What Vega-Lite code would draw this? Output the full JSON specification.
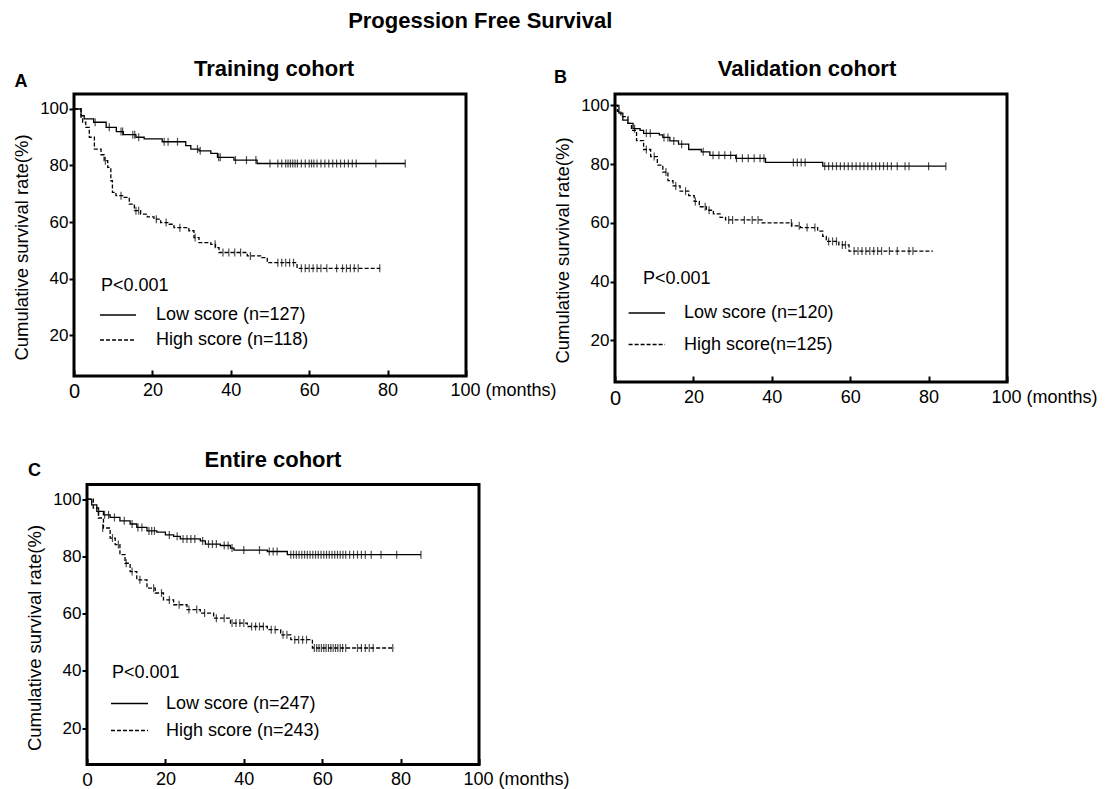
{
"$schema": "https://vega.github.io/schema/vega-lite/v6.json",
"background": "white",
"padding": {"left": 11, "top": 9, "right": 0, "bottom": 0},
"title": {"text": "Progession Free Survival", "fontSize": 22, "fontWeight": "bold", "font": "Liberation Sans", "color": "black", "anchor": "start", "dx": 337, "baseline": "top", "offset": 24},
"datasets": {
"curves": [
{"p":"A","g":"Low","t":0,"s":100},{"p":"A","g":"Low","t":1.8,"s":97.6},{"p":"A","g":"Low","t":2.6,"s":96.5},{"p":"A","g":"Low","t":5,"s":95.3},{"p":"A","g":"Low","t":8.2,"s":93.5},{"p":"A","g":"Low","t":10.8,"s":92},{"p":"A","g":"Low","t":12.6,"s":90.9},{"p":"A","g":"Low","t":15.8,"s":90},{"p":"A","g":"Low","t":17.9,"s":89.4},{"p":"A","g":"Low","t":22.5,"s":88.4},{"p":"A","g":"Low","t":28.5,"s":87},{"p":"A","g":"Low","t":29.8,"s":85.8},{"p":"A","g":"Low","t":31.9,"s":85.2},{"p":"A","g":"Low","t":34.9,"s":84.3},{"p":"A","g":"Low","t":36.6,"s":82.9},{"p":"A","g":"Low","t":40.8,"s":81.9},{"p":"A","g":"Low","t":46.7,"s":80.7},{"p":"A","g":"Low","t":84.5,"s":80.7},
{"p":"A","g":"High","t":0,"s":100},{"p":"A","g":"High","t":1.8,"s":97},{"p":"A","g":"High","t":2.2,"s":95.3},{"p":"A","g":"High","t":3,"s":93.5},{"p":"A","g":"High","t":3.9,"s":90},{"p":"A","g":"High","t":5.2,"s":85.8},{"p":"A","g":"High","t":6.9,"s":83.8},{"p":"A","g":"High","t":7.7,"s":81.7},{"p":"A","g":"High","t":8.6,"s":79.3},{"p":"A","g":"High","t":9.4,"s":74.6},{"p":"A","g":"High","t":9.8,"s":70.5},{"p":"A","g":"High","t":10.7,"s":69.3},{"p":"A","g":"High","t":12.8,"s":68.7},{"p":"A","g":"High","t":14.1,"s":66.3},{"p":"A","g":"High","t":15.4,"s":64},{"p":"A","g":"High","t":17,"s":62.8},{"p":"A","g":"High","t":18.7,"s":61.8},{"p":"A","g":"High","t":20.4,"s":61},{"p":"A","g":"High","t":22.1,"s":59.8},{"p":"A","g":"High","t":24.3,"s":59.2},{"p":"A","g":"High","t":25.5,"s":58},{"p":"A","g":"High","t":29.3,"s":56.9},{"p":"A","g":"High","t":30.6,"s":54.5},{"p":"A","g":"High","t":31.9,"s":52.7},{"p":"A","g":"High","t":34.9,"s":52.1},{"p":"A","g":"High","t":36.1,"s":50.9},{"p":"A","g":"High","t":37,"s":49.2},{"p":"A","g":"High","t":44.2,"s":48},{"p":"A","g":"High","t":47.6,"s":47.4},{"p":"A","g":"High","t":49.3,"s":45.6},{"p":"A","g":"High","t":56.9,"s":43.6},{"p":"A","g":"High","t":78.1,"s":43.6},
{"p":"B","g":"Low","t":0,"s":100},{"p":"B","g":"Low","t":1,"s":97.4},{"p":"B","g":"Low","t":2,"s":95},{"p":"B","g":"Low","t":3.3,"s":93.9},{"p":"B","g":"Low","t":4.6,"s":92.1},{"p":"B","g":"Low","t":6.4,"s":91.5},{"p":"B","g":"Low","t":7.3,"s":90.5},{"p":"B","g":"Low","t":11.3,"s":90},{"p":"B","g":"Low","t":12.2,"s":89.1},{"p":"B","g":"Low","t":14,"s":87.9},{"p":"B","g":"Low","t":16.2,"s":86.8},{"p":"B","g":"Low","t":18.8,"s":85},{"p":"B","g":"Low","t":22,"s":84.2},{"p":"B","g":"Low","t":24.2,"s":83},{"p":"B","g":"Low","t":30.8,"s":82},{"p":"B","g":"Low","t":38.4,"s":80.6},{"p":"B","g":"Low","t":53,"s":79.3},{"p":"B","g":"Low","t":84.4,"s":79.3},
{"p":"B","g":"High","t":0,"s":100},{"p":"B","g":"High","t":0.6,"s":98},{"p":"B","g":"High","t":1.5,"s":96.2},{"p":"B","g":"High","t":3.3,"s":93.9},{"p":"B","g":"High","t":4.2,"s":91.5},{"p":"B","g":"High","t":5.5,"s":88},{"p":"B","g":"High","t":7.3,"s":85},{"p":"B","g":"High","t":9.1,"s":82.6},{"p":"B","g":"High","t":10.8,"s":79.7},{"p":"B","g":"High","t":12.2,"s":77.3},{"p":"B","g":"High","t":13.5,"s":74.4},{"p":"B","g":"High","t":14.8,"s":72.6},{"p":"B","g":"High","t":16.6,"s":70.8},{"p":"B","g":"High","t":18.8,"s":69.3},{"p":"B","g":"High","t":20.2,"s":67.3},{"p":"B","g":"High","t":21.5,"s":65.5},{"p":"B","g":"High","t":23.3,"s":64.3},{"p":"B","g":"High","t":25.1,"s":63.1},{"p":"B","g":"High","t":26.8,"s":61.9},{"p":"B","g":"High","t":28.2,"s":61},{"p":"B","g":"High","t":37.5,"s":60},{"p":"B","g":"High","t":45.1,"s":59},{"p":"B","g":"High","t":47.3,"s":58.4},{"p":"B","g":"High","t":51.7,"s":57.2},{"p":"B","g":"High","t":53,"s":55.4},{"p":"B","g":"High","t":53.9,"s":53.7},{"p":"B","g":"High","t":57.1,"s":52.5},{"p":"B","g":"High","t":59.7,"s":50.4},{"p":"B","g":"High","t":81.1,"s":50.4},
{"p":"C","g":"Low","t":0,"s":100},{"p":"C","g":"Low","t":1.2,"s":98},{"p":"C","g":"Low","t":2.5,"s":95.7},{"p":"C","g":"Low","t":4.2,"s":94.5},{"p":"C","g":"Low","t":5.9,"s":93.6},{"p":"C","g":"Low","t":8.4,"s":92.4},{"p":"C","g":"Low","t":11,"s":91.3},{"p":"C","g":"Low","t":12.7,"s":90.1},{"p":"C","g":"Low","t":15.3,"s":88.9},{"p":"C","g":"Low","t":17.8,"s":88.5},{"p":"C","g":"Low","t":20,"s":87.5},{"p":"C","g":"Low","t":22.1,"s":87},{"p":"C","g":"Low","t":23.8,"s":86.1},{"p":"C","g":"Low","t":28.9,"s":85.4},{"p":"C","g":"Low","t":30.2,"s":84.3},{"p":"C","g":"Low","t":34,"s":83.8},{"p":"C","g":"Low","t":36.6,"s":82.9},{"p":"C","g":"Low","t":37.5,"s":82.2},{"p":"C","g":"Low","t":46,"s":81.7},{"p":"C","g":"Low","t":51.1,"s":80.6},{"p":"C","g":"Low","t":85.2,"s":80.6},
{"p":"C","g":"High","t":0,"s":100},{"p":"C","g":"High","t":1.6,"s":96.9},{"p":"C","g":"High","t":2.9,"s":93.4},{"p":"C","g":"High","t":4.2,"s":89.9},{"p":"C","g":"High","t":5.9,"s":86.4},{"p":"C","g":"High","t":7.2,"s":84.1},{"p":"C","g":"High","t":8.4,"s":80.6},{"p":"C","g":"High","t":9.7,"s":77.6},{"p":"C","g":"High","t":11,"s":74.7},{"p":"C","g":"High","t":12.7,"s":71.8},{"p":"C","g":"High","t":15.3,"s":68.9},{"p":"C","g":"High","t":17.4,"s":67.2},{"p":"C","g":"High","t":19.5,"s":64.8},{"p":"C","g":"High","t":22.1,"s":63.1},{"p":"C","g":"High","t":25.5,"s":61.4},{"p":"C","g":"High","t":28.9,"s":60.2},{"p":"C","g":"High","t":32.3,"s":58.4},{"p":"C","g":"High","t":36.6,"s":56.7},{"p":"C","g":"High","t":40.9,"s":55.5},{"p":"C","g":"High","t":46,"s":54.4},{"p":"C","g":"High","t":49.4,"s":52.6},{"p":"C","g":"High","t":52,"s":50.9},{"p":"C","g":"High","t":57.5,"s":48},{"p":"C","g":"High","t":78.4,"s":48}
],
"cens": [
{"p":"A","t":5.4,"s":95.3},{"p":"A","t":9,"s":93.5},{"p":"A","t":12,"s":92},{"p":"A","t":12.4,"s":92},{"p":"A","t":15,"s":90.9},{"p":"A","t":15.5,"s":90.9},{"p":"A","t":16.5,"s":90},{"p":"A","t":23,"s":88.4},{"p":"A","t":24,"s":88.4},{"p":"A","t":26.4,"s":88.4},{"p":"A","t":31.5,"s":85.8},{"p":"A","t":32.2,"s":85.2},{"p":"A","t":36.9,"s":82.9},{"p":"A","t":37.3,"s":82.9},{"p":"A","t":41.2,"s":81.9},{"p":"A","t":44,"s":81.9},{"p":"A","t":46.4,"s":81.9},{"p":"A","t":50,"s":80.7},{"p":"A","t":52,"s":80.7},{"p":"A","t":53,"s":80.7},{"p":"A","t":54,"s":80.7},{"p":"A","t":54.6,"s":80.7},{"p":"A","t":55.2,"s":80.7},{"p":"A","t":55.8,"s":80.7},{"p":"A","t":56.4,"s":80.7},{"p":"A","t":57,"s":80.7},{"p":"A","t":58,"s":80.7},{"p":"A","t":59,"s":80.7},{"p":"A","t":60,"s":80.7},{"p":"A","t":60.6,"s":80.7},{"p":"A","t":61.2,"s":80.7},{"p":"A","t":62,"s":80.7},{"p":"A","t":63,"s":80.7},{"p":"A","t":64,"s":80.7},{"p":"A","t":65,"s":80.7},{"p":"A","t":66,"s":80.7},{"p":"A","t":67,"s":80.7},{"p":"A","t":68,"s":80.7},{"p":"A","t":69,"s":80.7},{"p":"A","t":70,"s":80.7},{"p":"A","t":71,"s":80.7},{"p":"A","t":72,"s":80.7},{"p":"A","t":77,"s":80.7},{"p":"A","t":84.5,"s":80.7},
{"p":"A","t":8,"s":81.7},{"p":"A","t":12,"s":69.3},{"p":"A","t":15.8,"s":64},{"p":"A","t":16.5,"s":64},{"p":"A","t":21,"s":61},{"p":"A","t":23.5,"s":59.8},{"p":"A","t":27,"s":58},{"p":"A","t":30.9,"s":54.5},{"p":"A","t":36,"s":52.1},{"p":"A","t":38,"s":49.2},{"p":"A","t":39.5,"s":49.2},{"p":"A","t":41,"s":49.2},{"p":"A","t":42.5,"s":49.2},{"p":"A","t":45,"s":48},{"p":"A","t":52,"s":45.6},{"p":"A","t":53,"s":45.6},{"p":"A","t":54,"s":45.6},{"p":"A","t":55,"s":45.6},{"p":"A","t":56,"s":45.6},{"p":"A","t":58,"s":43.6},{"p":"A","t":59,"s":43.6},{"p":"A","t":60,"s":43.6},{"p":"A","t":61,"s":43.6},{"p":"A","t":62,"s":43.6},{"p":"A","t":63,"s":43.6},{"p":"A","t":64.5,"s":43.6},{"p":"A","t":67,"s":43.6},{"p":"A","t":68.5,"s":43.6},{"p":"A","t":69.5,"s":43.6},{"p":"A","t":70.5,"s":43.6},{"p":"A","t":71.5,"s":43.6},{"p":"A","t":72.5,"s":43.6},{"p":"A","t":78,"s":43.6},
{"p":"B","t":5,"s":92.1},{"p":"B","t":8,"s":90.5},{"p":"B","t":9,"s":90.5},{"p":"B","t":12.5,"s":89.1},{"p":"B","t":13.5,"s":89.1},{"p":"B","t":15,"s":87.9},{"p":"B","t":17,"s":86.8},{"p":"B","t":22.5,"s":84.2},{"p":"B","t":25,"s":83},{"p":"B","t":26.5,"s":83},{"p":"B","t":28,"s":83},{"p":"B","t":29.5,"s":83},{"p":"B","t":31,"s":82},{"p":"B","t":32.5,"s":82},{"p":"B","t":34,"s":82},{"p":"B","t":35.5,"s":82},{"p":"B","t":37,"s":82},{"p":"B","t":38,"s":82},{"p":"B","t":45.5,"s":80.6},{"p":"B","t":46.5,"s":80.6},{"p":"B","t":47.5,"s":80.6},{"p":"B","t":48.5,"s":80.6},{"p":"B","t":53.5,"s":79.3},{"p":"B","t":54.5,"s":79.3},{"p":"B","t":55.5,"s":79.3},{"p":"B","t":56.5,"s":79.3},{"p":"B","t":57.5,"s":79.3},{"p":"B","t":58.5,"s":79.3},{"p":"B","t":59.5,"s":79.3},{"p":"B","t":60.5,"s":79.3},{"p":"B","t":61.5,"s":79.3},{"p":"B","t":62.5,"s":79.3},{"p":"B","t":63.5,"s":79.3},{"p":"B","t":64.5,"s":79.3},{"p":"B","t":65.5,"s":79.3},{"p":"B","t":66.5,"s":79.3},{"p":"B","t":67.5,"s":79.3},{"p":"B","t":68.5,"s":79.3},{"p":"B","t":69.5,"s":79.3},{"p":"B","t":70.5,"s":79.3},{"p":"B","t":72,"s":79.3},{"p":"B","t":74,"s":79.3},{"p":"B","t":75,"s":79.3},{"p":"B","t":80,"s":79.3},{"p":"B","t":84.4,"s":79.3},
{"p":"B","t":8,"s":85},{"p":"B","t":10,"s":82.6},{"p":"B","t":13,"s":77.3},{"p":"B","t":15.5,"s":72.6},{"p":"B","t":18,"s":70.8},{"p":"B","t":20.5,"s":67.3},{"p":"B","t":23,"s":65.5},{"p":"B","t":24,"s":64.3},{"p":"B","t":29,"s":61},{"p":"B","t":30,"s":61},{"p":"B","t":33,"s":61},{"p":"B","t":35,"s":61},{"p":"B","t":36.5,"s":61},{"p":"B","t":45,"s":60},{"p":"B","t":47,"s":59},{"p":"B","t":49,"s":58.4},{"p":"B","t":51,"s":58.4},{"p":"B","t":54.5,"s":53.7},{"p":"B","t":55.5,"s":53.7},{"p":"B","t":56.5,"s":53.7},{"p":"B","t":58,"s":52.5},{"p":"B","t":58.8,"s":52.5},{"p":"B","t":61,"s":50.4},{"p":"B","t":62,"s":50.4},{"p":"B","t":63,"s":50.4},{"p":"B","t":64,"s":50.4},{"p":"B","t":65,"s":50.4},{"p":"B","t":66,"s":50.4},{"p":"B","t":67,"s":50.4},{"p":"B","t":68,"s":50.4},{"p":"B","t":70,"s":50.4},{"p":"B","t":72,"s":50.4},{"p":"B","t":75,"s":50.4},{"p":"B","t":76,"s":50.4},
{"p":"C","t":3,"s":95.7},{"p":"C","t":4.5,"s":94.5},{"p":"C","t":5.5,"s":94.5},{"p":"C","t":7,"s":93.6},{"p":"C","t":9.5,"s":92.4},{"p":"C","t":11.5,"s":91.3},{"p":"C","t":13,"s":90.1},{"p":"C","t":14,"s":90.1},{"p":"C","t":15.8,"s":88.9},{"p":"C","t":16.5,"s":88.9},{"p":"C","t":17.2,"s":88.9},{"p":"C","t":21,"s":87.5},{"p":"C","t":23,"s":87},{"p":"C","t":24.5,"s":86.1},{"p":"C","t":25.5,"s":86.1},{"p":"C","t":26.5,"s":86.1},{"p":"C","t":27.5,"s":86.1},{"p":"C","t":29.5,"s":85.4},{"p":"C","t":31,"s":84.3},{"p":"C","t":32,"s":84.3},{"p":"C","t":33,"s":84.3},{"p":"C","t":35,"s":83.8},{"p":"C","t":36,"s":83.8},{"p":"C","t":37,"s":82.9},{"p":"C","t":40,"s":82.2},{"p":"C","t":44,"s":82.2},{"p":"C","t":46.5,"s":81.7},{"p":"C","t":47.5,"s":81.7},{"p":"C","t":48.5,"s":81.7},{"p":"C","t":52,"s":80.6},{"p":"C","t":52.7,"s":80.6},{"p":"C","t":53.4,"s":80.6},{"p":"C","t":54.1,"s":80.6},{"p":"C","t":54.8,"s":80.6},{"p":"C","t":55.5,"s":80.6},{"p":"C","t":56.2,"s":80.6},{"p":"C","t":56.9,"s":80.6},{"p":"C","t":57.6,"s":80.6},{"p":"C","t":58.3,"s":80.6},{"p":"C","t":59,"s":80.6},{"p":"C","t":59.7,"s":80.6},{"p":"C","t":60.4,"s":80.6},{"p":"C","t":61.1,"s":80.6},{"p":"C","t":61.8,"s":80.6},{"p":"C","t":62.5,"s":80.6},{"p":"C","t":63.2,"s":80.6},{"p":"C","t":63.9,"s":80.6},{"p":"C","t":64.6,"s":80.6},{"p":"C","t":65.3,"s":80.6},{"p":"C","t":66,"s":80.6},{"p":"C","t":67,"s":80.6},{"p":"C","t":68,"s":80.6},{"p":"C","t":69,"s":80.6},{"p":"C","t":70,"s":80.6},{"p":"C","t":71,"s":80.6},{"p":"C","t":72.5,"s":80.6},{"p":"C","t":75,"s":80.6},{"p":"C","t":79,"s":80.6},{"p":"C","t":85.2,"s":80.6},
{"p":"C","t":4,"s":89.9},{"p":"C","t":6.5,"s":86.4},{"p":"C","t":8,"s":84.1},{"p":"C","t":10,"s":77.6},{"p":"C","t":11.5,"s":74.7},{"p":"C","t":13.5,"s":71.8},{"p":"C","t":17,"s":68.9},{"p":"C","t":19,"s":67.2},{"p":"C","t":21,"s":64.8},{"p":"C","t":23.5,"s":63.1},{"p":"C","t":26,"s":61.4},{"p":"C","t":28,"s":61.4},{"p":"C","t":30,"s":60.2},{"p":"C","t":33,"s":58.4},{"p":"C","t":35,"s":58.4},{"p":"C","t":37,"s":56.7},{"p":"C","t":38,"s":56.7},{"p":"C","t":39,"s":56.7},{"p":"C","t":40,"s":56.7},{"p":"C","t":42,"s":55.5},{"p":"C","t":43,"s":55.5},{"p":"C","t":44,"s":55.5},{"p":"C","t":45,"s":55.5},{"p":"C","t":47,"s":54.4},{"p":"C","t":48,"s":54.4},{"p":"C","t":50,"s":52.6},{"p":"C","t":51,"s":52.6},{"p":"C","t":53,"s":50.9},{"p":"C","t":54,"s":50.9},{"p":"C","t":55,"s":50.9},{"p":"C","t":56,"s":50.9},{"p":"C","t":58,"s":48},{"p":"C","t":58.6,"s":48},{"p":"C","t":59.2,"s":48},{"p":"C","t":59.8,"s":48},{"p":"C","t":60.4,"s":48},{"p":"C","t":61,"s":48},{"p":"C","t":61.6,"s":48},{"p":"C","t":62.2,"s":48},{"p":"C","t":62.8,"s":48},{"p":"C","t":63.4,"s":48},{"p":"C","t":64,"s":48},{"p":"C","t":64.6,"s":48},{"p":"C","t":65.2,"s":48},{"p":"C","t":66,"s":48},{"p":"C","t":69,"s":48},{"p":"C","t":70,"s":48},{"p":"C","t":71,"s":48},{"p":"C","t":72,"s":48},{"p":"C","t":73,"s":48},{"p":"C","t":78,"s":48}
],
"letters": [{"p":"A","L":"A"},{"p":"B","L":"B"},{"p":"C","L":"C"}]
},
"spacing": 36.5,
"vconcat": [
{
"hconcat": [
{
"width": 392, "height": 282,
"title": {"text": "Training cohort", "fontSize": 22, "fontWeight": "bold", "font": "Liberation Sans", "color": "black", "baseline": "alphabetic", "frame": "group", "offset": -25.2, "dx": 4},
"layer": [
{"data": {"name": "curves"}, "transform": [{"filter": "datum.p === 'A'"}],
 "mark": {"type": "line", "interpolate": "step-after", "color": "black", "strokeWidth": 1.3},
 "encoding": {
  "x": {"field": "t", "type": "quantitative", "scale": {"domain": [0, 100], "nice": false},
   "axis": {"values": [0,20,40,60,80,100], "title": null, "grid": false, "domain": false, "tickSize": -6, "tickWidth": 2, "tickColor": "black", "labelFontSize": {"condition": {"test": "datum.value === 0", "value": 20}, "value": 18}, "labelExpr": "datum.value === 100 ? '100 (months)' : datum.label", "labelAlign": {"condition": {"test": "datum.value === 100", "value": "left"}, "value": "center"}, "labelOffset": {"condition": {"test": "datum.value === 100", "value": -16}, "value": 0}, "labelPadding": 11.5, "labelFlush": false, "labelOverlap": false, "labelBound": false, "labelColor": "black", "labelFont": "Liberation Sans"}},
  "y": {"field": "s", "type": "quantitative", "scale": {"domain": [5.5, 105.3], "nice": false, "zero": false},
   "axis": {"values": [20,40,60,80,100], "title": "Cumulative survival rate(%)", "titleFontSize": 18.5, "titleFontWeight": "normal", "titleFont": "Liberation Sans", "titleColor": "black", "titlePadding": 8, "titleY": 153, "grid": false, "domain": false, "tickSize": 5, "tickWidth": 2, "tickColor": "black", "labelFontSize": 17, "labelPadding": 1, "labelColor": "black", "labelFont": "Liberation Sans"}},
  "strokeDash": {"field": "g", "type": "nominal", "scale": {"domain": ["Low", "High"], "range": [[1,0],[4,2]]},
   "legend": {"orient": "bottom-left", "offset": 27, "title": "P<0.001", "symbolType": "M-1.18,0H2.09", "symbolSize": 484, "symbolStrokeWidth": 1.5, "symbolStrokeColor": "black", "labelOffset": 31, "rowPadding": 4, "titlePadding": 8, "padding": 0, "labelFontSize": 18, "titleFontSize": 18, "titleFontWeight": "normal", "labelFont": "Liberation Sans", "titleFont": "Liberation Sans", "labelColor": "black", "titleColor": "black", "labelLimit": 400, "labelExpr": "datum.value === 'Low' ? 'Low score (n=127)' : 'High score (n=118)'"}}
 }},
{"data": {"name": "cens"}, "transform": [{"filter": "datum.p === 'A'"}],
 "mark": {"type": "tick", "orient": "vertical", "size": 8, "thickness": 1.2, "color": "black"},
 "encoding": {"x": {"field": "t", "type": "quantitative"}, "y": {"field": "s", "type": "quantitative"}}},
{"data": {"name": "letters"}, "transform": [{"filter": "datum.p === 'A'"}],
 "mark": {"type": "text", "fontSize": 18, "fontWeight": "bold", "font": "Liberation Sans", "color": "black", "align": "center", "baseline": "middle"},
 "encoding": {"x": {"datum": -13.5}, "y": {"datum": 109.6}, "text": {"field": "L"}}}
]
},
{
"width": 392, "height": 288,
"title": {"text": "Validation cohort", "fontSize": 22, "fontWeight": "bold", "font": "Liberation Sans", "color": "black", "baseline": "alphabetic", "frame": "group", "offset": -28.6, "dx": -4},
"layer": [
{"data": {"name": "curves"}, "transform": [{"filter": "datum.p === 'B'"}],
 "mark": {"type": "line", "interpolate": "step-after", "color": "black", "strokeWidth": 1.3},
 "encoding": {
  "x": {"field": "t", "type": "quantitative", "scale": {"domain": [0, 100], "nice": false},
   "axis": {"values": [0,20,40,60,80,100], "title": null, "grid": false, "domain": false, "tickSize": -6, "tickWidth": 2, "tickColor": "black", "labelFontSize": {"condition": {"test": "datum.value === 0", "value": 20}, "value": 18}, "labelExpr": "datum.value === 100 ? '100 (months)' : datum.label", "labelAlign": {"condition": {"test": "datum.value === 100", "value": "left"}, "value": "center"}, "labelOffset": {"condition": {"test": "datum.value === 100", "value": -16}, "value": 0}, "labelPadding": 12.5, "labelFlush": false, "labelOverlap": false, "labelBound": false, "labelColor": "black", "labelFont": "Liberation Sans"}},
  "y": {"field": "s", "type": "quantitative", "scale": {"domain": [5.8, 103.9], "nice": false, "zero": false},
   "axis": {"values": [20,40,60,80,100], "title": "Cumulative survival rate(%)", "titleFontSize": 18.5, "titleFontWeight": "normal", "titleFont": "Liberation Sans", "titleColor": "black", "titlePadding": 8, "titleY": 156, "grid": false, "domain": false, "tickSize": 5, "tickWidth": 2, "tickColor": "black", "labelFontSize": 17, "labelPadding": 1, "labelColor": "black", "labelFont": "Liberation Sans"}},
  "strokeDash": {"field": "g", "type": "nominal", "scale": {"domain": ["Low", "High"], "range": [[1,0],[4,2]]},
   "legend": {"orient": "bottom-left", "offset": 28, "title": "P<0.001", "symbolType": "M-2.4,0H0.91", "symbolSize": 484, "symbolStrokeWidth": 1.5, "symbolStrokeColor": "black", "labelOffset": 17, "rowPadding": 10.6, "titlePadding": 13, "padding": 0, "labelFontSize": 18, "titleFontSize": 18, "titleFontWeight": "normal", "labelFont": "Liberation Sans", "titleFont": "Liberation Sans", "labelColor": "black", "titleColor": "black", "labelLimit": 400, "labelExpr": "datum.value === 'Low' ? 'Low score (n=120)' : 'High score(n=125)'"}}
 }},
{"data": {"name": "cens"}, "transform": [{"filter": "datum.p === 'B'"}],
 "mark": {"type": "tick", "orient": "vertical", "size": 8, "thickness": 1.2, "color": "black"},
 "encoding": {"x": {"field": "t", "type": "quantitative"}, "y": {"field": "s", "type": "quantitative"}}},
{"data": {"name": "letters"}, "transform": [{"filter": "datum.p === 'B'"}],
 "mark": {"type": "text", "fontSize": 18, "fontWeight": "bold", "font": "Liberation Sans", "color": "black", "align": "center", "baseline": "middle"},
 "encoding": {"x": {"datum": -13.9}, "y": {"datum": 109.2}, "text": {"field": "L"}}}
]
}
],
"spacing": -6,
"resolve": {"scale": {"strokeDash": "independent"}, "legend": {"strokeDash": "independent"}}
},
{
"hconcat": [
{"width": 13, "height": 280, "data": {"values": [{"z": 0}]}, "mark": {"type": "point", "opacity": 0}, "view": {"stroke": null, "fill": "white"}},
{
"width": 392, "height": 280,
"title": {"text": "Entire cohort", "fontSize": 22, "fontWeight": "bold", "font": "Liberation Sans", "color": "black", "baseline": "alphabetic", "frame": "group", "offset": -26.2, "dx": -10},
"layer": [
{"data": {"name": "curves"}, "transform": [{"filter": "datum.p === 'C'"}],
 "mark": {"type": "line", "interpolate": "step-after", "color": "black", "strokeWidth": 1.3},
 "encoding": {
  "x": {"field": "t", "type": "quantitative", "scale": {"domain": [0, 100], "nice": false},
   "axis": {"values": [0,20,40,60,80,100], "title": null, "grid": false, "domain": false, "tickSize": -6, "tickWidth": 2, "tickColor": "black", "labelFontSize": {"condition": {"test": "datum.value === 0", "value": 19}, "value": 18}, "labelExpr": "datum.value === 100 ? '100 (months)' : datum.label", "labelAlign": {"condition": {"test": "datum.value === 100", "value": "left"}, "value": "center"}, "labelOffset": {"condition": {"test": "datum.value === 100", "value": -16}, "value": 0}, "labelPadding": 12, "labelFlush": false, "labelOverlap": false, "labelBound": false, "labelColor": "black", "labelFont": "Liberation Sans"}},
  "y": {"field": "s", "type": "quantitative", "scale": {"domain": [7.3, 105.1], "nice": false, "zero": false},
   "axis": {"values": [20,40,60,80,100], "title": "Cumulative survival rate(%)", "titleFontSize": 18.5, "titleFontWeight": "normal", "titleFont": "Liberation Sans", "titleColor": "black", "titlePadding": 8, "titleY": 153, "grid": false, "domain": false, "tickSize": 5, "tickWidth": 2, "tickColor": "black", "labelFontSize": 17, "labelPadding": 1, "labelColor": "black", "labelFont": "Liberation Sans"}},
  "strokeDash": {"field": "g", "type": "nominal", "scale": {"domain": ["Low", "High"], "range": [[1,0],[4,2]]},
   "legend": {"orient": "bottom-left", "offset": 25, "title": "P<0.001", "symbolType": "M-1.18,0H2.18", "symbolSize": 484, "symbolStrokeWidth": 1.5, "symbolStrokeColor": "black", "labelOffset": 30, "rowPadding": 6, "titlePadding": 10, "padding": 0, "labelFontSize": 18, "titleFontSize": 18, "titleFontWeight": "normal", "labelFont": "Liberation Sans", "titleFont": "Liberation Sans", "labelColor": "black", "titleColor": "black", "labelLimit": 400, "labelExpr": "datum.value === 'Low' ? 'Low score (n=247)' : 'High score (n=243)'"}}
 }},
{"data": {"name": "cens"}, "transform": [{"filter": "datum.p === 'C'"}],
 "mark": {"type": "tick", "orient": "vertical", "size": 8, "thickness": 1.2, "color": "black"},
 "encoding": {"x": {"field": "t", "type": "quantitative"}, "y": {"field": "s", "type": "quantitative"}}},
{"data": {"name": "letters"}, "transform": [{"filter": "datum.p === 'C'"}],
 "mark": {"type": "text", "fontSize": 18, "fontWeight": "bold", "font": "Liberation Sans", "color": "black", "align": "center", "baseline": "middle"},
 "encoding": {"x": {"datum": -13.4}, "y": {"datum": 109.7}, "text": {"field": "L"}}}
]
}
],
"spacing": 0,
"bounds": "flush",
"resolve": {"scale": {"strokeDash": "independent"}, "legend": {"strokeDash": "independent"}}
}
],
"resolve": {"scale": {"strokeDash": "independent"}, "legend": {"strokeDash": "independent"}},
"config": {
 "font": "Liberation Sans",
 "view": {"stroke": "black", "strokeWidth": 3},
 "axis": {"labelFont": "Liberation Sans", "titleFont": "Liberation Sans"}
}
}
